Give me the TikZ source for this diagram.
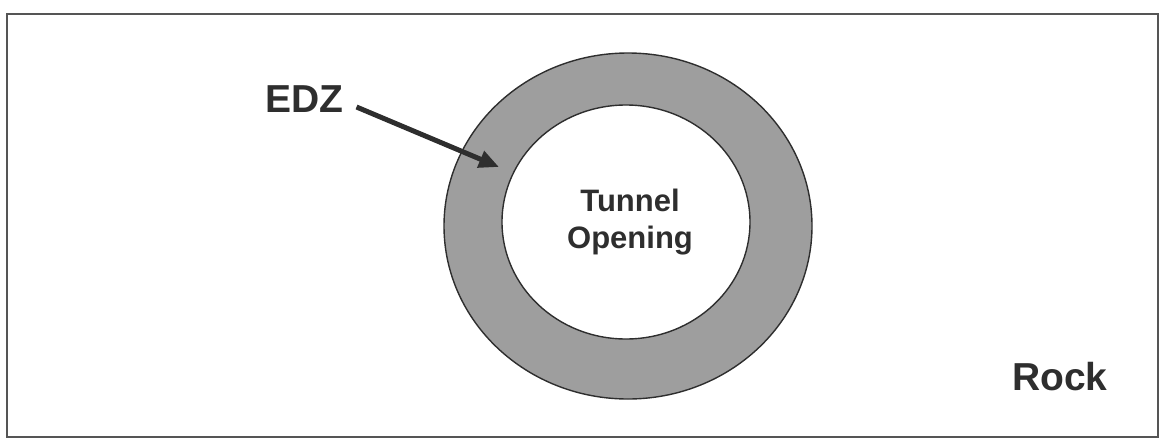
\documentclass[tikz,border=0pt]{standalone}
\usepackage{fontspec}
\setmainfont{Liberation Sans}
\usetikzlibrary{arrows.meta}
\definecolor{inkgray}{HTML}{2E2E2E}
\definecolor{ringgray}{HTML}{9E9E9E}
\definecolor{framegray}{HTML}{555555}
\tikzset{
  labeltext/.style={text=inkgray, font=\fontsize{39}{44}\selectfont\bfseries},
  holetext/.style={text=inkgray, font=\fontsize{31}{37}\selectfont\bfseries, align=center},
  pointer/.style={-{Triangle[length=20pt,width=17pt]}, line width=5pt, color=inkgray},
}
\begin{document}
\begin{tikzpicture}[x=1pt,y=-1pt]
  \useasboundingbox (0,0) rectangle (1163,445);
  \draw[framegray, line width=2.6pt] (7,14) rectangle (1158,437);
  % damaged zone round the opening
  \filldraw[ringgray, draw=inkgray, line width=1.4pt, even odd rule]
    (628,226) ellipse [x radius=184, y radius=173]
    (626,222) ellipse [x radius=124, y radius=117];

  \node[holetext] (hole) at (630,222) {Tunnel\\Opening};
  \node[labeltext] (edz) at (304,99) {EDZ};
  \node[labeltext] (rock) at (1060,377) {Rock};
  \coordinate (edzpt) at (499,167);

  \path (edz.east) ++(10,8) coordinate (edzstart);
  \draw[pointer] (edzstart) -- (edzpt);
\end{tikzpicture}
\end{document}
